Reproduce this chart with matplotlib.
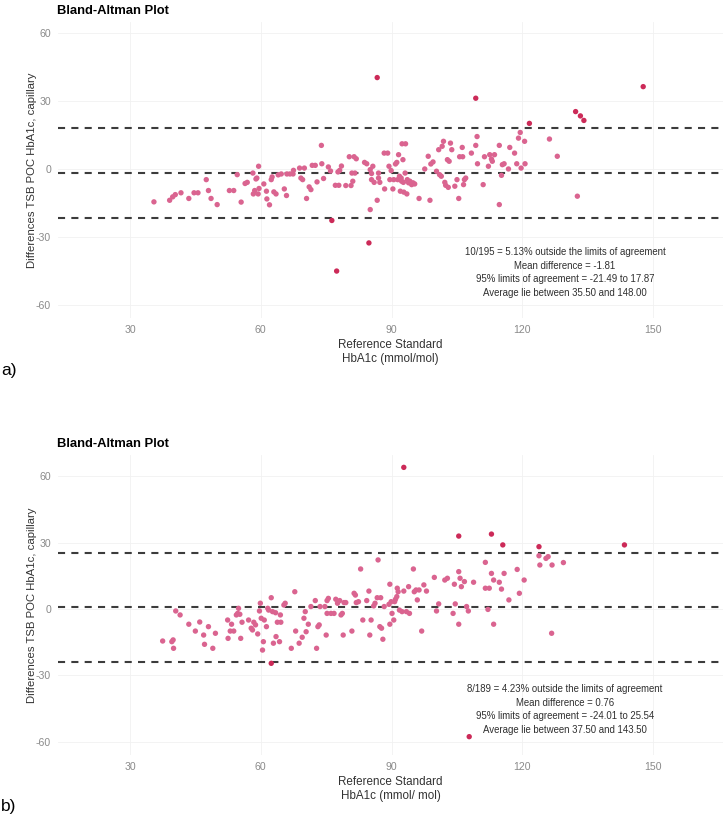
import numpy as np
import matplotlib
matplotlib.use("Agg")
import matplotlib.pyplot as plt

plt.rcParams["axes.unicode_minus"] = False

# ---- panel a data ----
avg_a = [35.5, 39.1, 39.8, 40.4, 41.7, 43.5, 44.7, 45.6, 47.5, 48.0, 48.6, 50.0, 52.8, 53.8,
         54.6, 55.5, 56.4, 56.9, 58.2, 58.3, 58.6, 58.9, 59.1, 59.4, 59.5, 59.6, 60.7, 61.3,
         61.4, 62.0, 62.4, 62.6, 63.0, 63.5, 64.0, 64.7, 65.4, 65.9, 66.0, 66.7, 67.4, 67.5,
         68.9, 69.2, 69.6, 70.0, 70.5, 71.1, 71.5, 71.8, 72.5, 72.9, 73.9, 74.0, 74.4, 75.5,
         76.0, 77.1, 77.7, 77.9, 78.1, 78.5, 79.5, 80.3, 80.7, 80.9, 81.1, 81.4, 81.9, 81.6,
         83.8, 84.3, 85.1, 85.1, 85.4, 85.4, 85.7, 86.0, 86.7, 87.0, 87.0, 87.3, 88.3, 88.4,
         89.1, 89.4, 89.6, 89.9, 90.3, 90.5, 90.9, 91.2, 91.4, 91.6, 91.8, 92.0, 92.2, 92.3,
         92.4, 92.6, 92.7, 92.8, 93.1, 93.2, 93.5, 93.6, 93.9, 94.2, 94.6, 94.9, 95.3, 96.3,
         97.6, 98.4, 98.8, 99.0, 99.5, 100.3, 100.8, 101.0, 101.4, 101.6, 101.9, 102.2, 102.4,
         102.8, 103.0, 103.2, 103.5, 103.8, 104.5, 105.0, 105.4, 105.6, 106.2, 106.3, 106.5,
         106.7, 107.0, 108.3, 109.3, 109.6, 109.7, 111.0, 111.3, 112.2, 112.5, 112.9, 113.1,
         113.6, 114.7, 114.7, 115.2, 115.4, 115.8, 116.8, 117.1, 118.2, 118.7, 119.1, 119.5,
         119.7, 120.5, 120.6, 126.2, 128.0, 132.6]
diff_a = [-14.5, -13.8, -12.3, -11.3, -10.5, -13.0, -10.5, -10.5, -4.7, -9.5, -13.0, -15.7, -9.5, -9.5,
          -2.5, -14.6, -6.4, -5.9, -1.8, -11.0, -9.5, -4.4, -4.0, -11.0, 1.2, -8.6, -6.6, -9.8,
          -13.2, -15.8, -4.7, -3.5, -10.1, -11.0, -2.6, -2.2, -8.8, -11.7, -2.2, -2.2, -2.2, -0.6,
          0.4, -4.0, -4.7, 0.4, -13.0, -7.9, -9.1, 1.6, 1.6, -5.7, 10.4, 2.3, -4.2, 0.9,
          -0.9, -7.2, -1.3, -7.2, -0.6, 1.3, -7.3, 5.4, -7.3, -1.8, -5.4, 5.4, 4.5, -1.8,
          2.9, 2.3, -17.9, -0.3, -2.0, -4.7, 1.2, -5.9, -13.8, -1.8, -4.0, -5.9, 7.0, -8.8,
          7.0, 1.2, -4.7, -0.7, -8.8, -4.7, 2.2, 2.9, -4.7, 6.3, -3.2, -9.8, -4.0, -5.4,
          11.1, 4.1, -5.9, -10.2, -1.8, 11.1, -11.0, -4.7, -6.1, -5.4, -6.9, -6.1, -6.6, -13.0,
          0.0, 5.6, -13.8, 2.2, 3.1, -1.0, 8.5, -2.5, -3.2, 10.0, 12.2, -5.9, -7.2,
          4.1, -8.1, 3.4, 11.4, 8.5, -7.6, -4.7, -13.0, 5.4, 9.5, 5.4, -6.9,
          -4.7, -4.0, 7.0, 10.4, 14.3, 2.3, -6.9, 5.4, 1.2, 6.3, 4.4, 3.4,
          6.3, -15.7, 10.4, -2.8, 1.9, 2.3, 0.0, 9.5, 7.0, 2.3, 13.6, 16.1,
          0.4, 12.2, 2.3, 13.2, 5.6, -12.0]
out_avg_a = [86.7, 147.7, 109.3, 132.2, 133.3, 134.1, 121.6, 84.8, 77.4, 76.3]
out_diff_a = [40.3, 36.3, 31.2, 25.3, 23.4, 21.4, 20.1, -32.6, -45.0, -22.7]
mean_a, lo_a, hi_a = -1.81, -21.49, 17.87
note_a = ["10/195 = 5.13% outside the limits of agreement",
          "Mean difference = -1.81",
          "95% limits of agreement = -21.49 to 17.87",
          "Average lie between 35.50 and 148.00"]

# ---- panel b data ----
avg_b = [37.5, 39.6, 39.9, 40.0, 40.5, 41.5, 43.5, 45.0, 46.0, 46.9, 47.1, 48.0, 49.0, 49.6,
         52.4, 52.5, 53.0, 53.3, 53.8, 54.4, 54.7, 54.9, 55.2, 55.4, 55.7, 57.2, 57.8, 58.1,
         58.4, 58.8, 59.3, 59.7, 59.9, 60.1, 60.4, 60.6, 60.8, 61.3, 61.6, 61.8, 62.4, 62.7,
         62.9, 63.4, 63.5, 63.8, 64.3, 64.5, 64.6, 65.3, 65.6, 67.0, 67.8, 68.0, 68.8, 69.5,
         69.9, 70.2, 70.4, 70.9, 71.5, 72.5, 72.8, 73.1, 73.4, 73.6, 74.7, 75.0, 75.2, 75.5,
         75.2, 76.1, 76.8, 77.2, 77.6, 78.1, 78.4, 78.7, 78.9, 79.1, 79.5, 80.9, 81.4, 81.7,
         81.9, 82.4, 82.9, 83.4, 84.3, 84.8, 85.0, 85.3, 85.9, 86.2, 86.7, 86.9, 87.3, 87.5,
         87.7, 88.0, 88.3, 89.4, 89.6, 89.6, 89.9, 90.1, 90.5, 90.7, 90.9, 91.2, 91.3, 91.5,
         91.8, 92.4, 92.8, 93.4, 93.9, 94.1, 95.0, 95.2, 95.6, 95.9, 96.3, 96.9, 97.4, 98.0,
         99.8, 100.3, 100.8, 102.2, 102.8, 104.1, 104.4, 104.6, 105.4, 105.4, 105.7, 106.0,
         106.7, 107.2, 107.6, 108.8, 111.5, 111.5, 112.1, 112.4, 112.9, 113.4, 113.4, 114.7,
         115.2, 115.8, 116.9, 118.8, 119.3, 120.4, 123.8, 124.0, 125.4, 125.9, 126.7, 126.8,
         129.4]
diff_b = [-14.5, -14.8, -14.0, -17.8, -0.9, -2.7, -6.9, -10.0, -5.9, -11.8, -16.0, -8.0, -17.8, -11.0,
          -5.0, -13.3, -10.0, -6.9, -10.0, -2.7, -2.0, 0.3, -2.4, -13.3, -6.0, -5.0, -8.7, -9.5,
          -6.0, -7.2, -11.3, -0.9, 2.6, -4.2, -18.6, -14.8, -5.0, -8.0, 0.3, -0.5, 5.1, -1.2,
          -15.5, -1.7, -12.5, -6.0, -14.8, -2.7, -6.0, 1.8, 2.6, -17.8, 7.8, -10.0, -15.5, -12.8,
          -4.2, -1.2, -10.3, -6.9, 1.1, 3.8, -17.8, -8.0, -7.2, 1.1, 1.1, -11.8, 3.8, 4.8,
          -2.0, -2.0, -2.0, 4.4, 2.6, 3.8, -2.7, -2.0, -11.8, 2.9, 2.9, -10.0, 7.1, 6.3,
          2.9, 3.3, 18.1, -5.0, 3.8, 8.1, -11.8, -5.0, 1.4, 2.6, 5.1, 22.2, -8.0, 5.1,
          -8.7, -13.7, 1.1, 2.1, -6.9, 11.2, 3.3, -2.0, -5.0, 3.3, 4.4, 5.6, 9.4, 7.8,
          -0.5, -1.2, 8.1, -1.2, 10.1, -2.0, 18.1, 7.8, 8.6, 4.1, 8.6, -10.0, 10.9, 8.1,
          14.3, -0.9, 2.3, 13.1, 13.9, -2.0, 11.2, 2.3, 16.9, -6.9, 13.9, 10.1,
          12.4, 1.1, -0.9, 12.1, 21.1, 9.4, -0.2, 9.4, 16.1, 13.1, -6.9, 12.1,
          9.0, 16.1, 4.1, 17.9, 7.1, 13.1, 24.1, 19.9, 22.9, 23.7, -11.0, 19.9,
          21.0]
out_avg_b = [92.8, 105.4, 112.9, 115.5, 123.8, 143.4, 107.8, 62.4]
out_diff_b = [64.1, 33.0, 33.9, 29.0, 28.2, 29.0, -57.8, -24.6]
mean_b, lo_b, hi_b = 0.76, -24.01, 25.54
note_b = ["8/189 = 4.23% outside the limits of agreement",
          "Mean difference = 0.76",
          "95% limits of agreement = -24.01 to 25.54",
          "Average lie between 37.50 and 143.50"]

W, H = 725, 816
sans = ["Liberation Sans", "DejaVu Sans"]
fig = plt.figure(figsize=(W / 100, H / 100), dpi=100)


def px_rect(left, top, right, bottom):
    return [left / W, 1 - bottom / H, (right - left) / W, (bottom - top) / H]


def panel(rect, ylim, avg, diff, oavg, odiff, mean, lo, hi, note, xlab,
          title_y, note_y, tag, tag_y):
    ax = fig.add_axes(px_rect(*rect))
    ax.set_xlim(13.5, 166)
    ax.set_ylim(*ylim)
    ax.set_xticks([30, 60, 90, 120, 150])
    ax.set_yticks([-60, -30, 0, 30, 60])
    ax.grid(True, color="#f1f1f1", lw=0.6)
    ax.set_axisbelow(True)
    for s in ax.spines.values():
        s.set_visible(False)
    ax.tick_params(length=0, labelsize=7.6, labelcolor="#8a8a8a", pad=5)
    for lab in ax.get_xticklabels() + ax.get_yticklabels():
        lab.set_family(sans)

    for yv in (hi, mean, lo):
        ax.axhline(yv, color="#3c3c3c", lw=1.5, ls=(0, (3.4, 3.0)), zorder=1)
    ax.scatter(avg, diff, s=15, color="#da6490", edgecolors="none", zorder=3)
    ax.scatter(oavg, odiff, s=15, color="#cc2a58", edgecolors="none", zorder=3)

    ax.set_xlabel(xlab, fontsize=8.4, color="#333333", family=sans, labelpad=3,
                  linespacing=1.2)
    ax.set_ylabel("Differences TSB POC HbA1c, capillary", fontsize=8.2,
                  color="#333333", family=sans)
    ax.yaxis.set_label_coords(-0.031, 0.5)

    fig.text(57 / W, 1 - title_y / H, "Bland-Altman Plot", fontsize=9.4,
             fontweight="bold", family=sans, va="center", ha="left")
    for i, line in enumerate(note):
        fig.text(565 / W, 1 - (note_y + 13.6 * i) / H, line, fontsize=6.9,
                 color="#2f2f2f", family=sans, ha="center", va="center")
    fig.text(1 / W, 1 - tag_y / H, tag, fontsize=12.5, family=sans,
             va="center", ha="left")
    return ax


panel((58, 22, 723, 318), (-65.7, 64.8), avg_a, diff_a, out_avg_a, out_diff_a,
      mean_a, lo_a, hi_a, note_a, "Reference Standard\nHbA1c (mmol/mol)",
      11, 252, "a)", 371)
panel((58, 455, 723, 755), (-66.1, 69.7), avg_b, diff_b, out_avg_b, out_diff_b,
      mean_b, lo_b, hi_b, note_b, "Reference Standard\nHbA1c (mmol/ mol)",
      444, 689, "b)", 806)

fig.savefig("out.png", dpi=100, facecolor="white")
